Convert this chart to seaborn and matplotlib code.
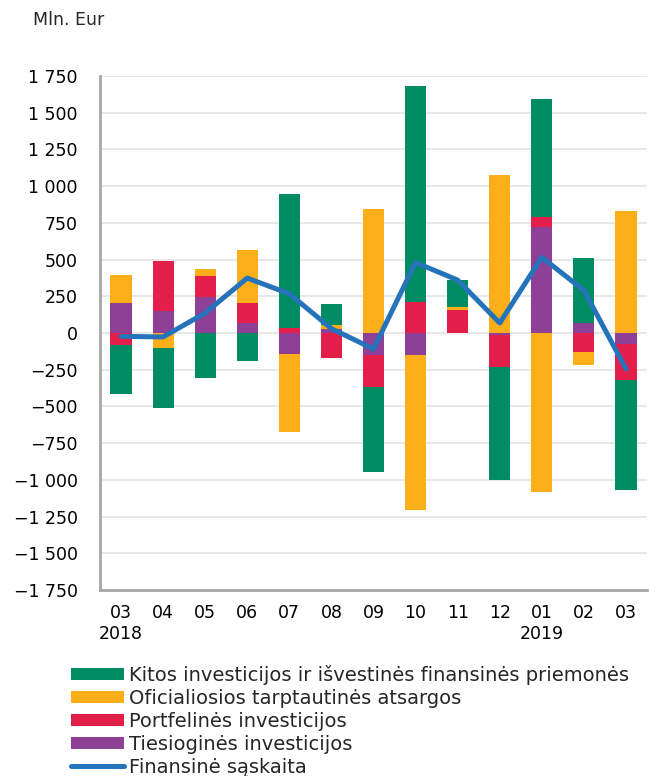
import numpy as np
import matplotlib
matplotlib.use("Agg")
import matplotlib.pyplot as plt
import seaborn as sns
from matplotlib.ticker import FuncFormatter

months = ["03\n2018", "04", "05", "06", "07", "08", "09", "10", "11", "12", "01\n2019", "02", "03"]

# Mln. Eur
tiesiogines = [204, 150, 245, 68, -141, 29, -150, -150, 0, -14, 725, 68, -75]
portfelines = [-80, 340, 140, 138, 36, -173, -220, 211, 158, -217, 68, -132, -247]
oficialiosios = [190, -102, 50, 356, -532, 25, 843, -1052, 19, 1074, -1081, -86, 832]
kitos = [-333, -408, -306, -188, 909, 141, -578, 1471, 185, -769, 802, 442, -750]
finansine = [-23, -27, 136, 374, 267, 30, -109, 480, 360, 68, 515, 290, -245]

series = [
    ("Tiesioginės investicijos", tiesiogines, "#8E3F96"),
    ("Portfelinės investicijos", portfelines, "#E41E4A"),
    ("Oficialiosios tarptautinės atsargos", oficialiosios, "#FDAF1A"),
    ("Kitos investicijos ir išvestinės finansinės priemonės", kitos, "#008C62"),
]

sns.set_theme(style="white")
plt.rcParams["font.family"] = ["DejaVu Sans"]

fig = plt.figure(figsize=(6.49, 7.76), dpi=100)
ax = fig.add_axes([0.154, 0.2397, 0.843, 0.6624])

x = np.arange(len(months))
pos_base = np.zeros(len(months))
neg_base = np.zeros(len(months))
handles = {}
for name, vals, col in series:
    v = np.array(vals, dtype=float)
    bottom = np.where(v >= 0, pos_base, neg_base)
    h = ax.bar(x, v, width=0.5, bottom=bottom, color=col, linewidth=0, zorder=2)
    handles[name] = h
    pos_base = pos_base + np.clip(v, 0, None)
    neg_base = neg_base + np.clip(v, None, 0)

sns.lineplot(x=x, y=finansine, ax=ax, color="#2573BA", linewidth=3.6, zorder=3,
             label="Finansinė sąskaita", legend=False)

ax.set_xlim(-0.5, len(months) - 0.5)
ax.set_ylim(-1750, 1750)
ax.set_yticks(np.arange(-1750, 1751, 250))
ax.yaxis.set_major_formatter(FuncFormatter(
    lambda v, p: ("−" if v < 0 else "") + f"{abs(int(v)):,}".replace(",", " ")))
ax.set_xticks(x)
ax.set_xticklabels(months)
ax.tick_params(axis="both", length=0, labelsize=12.5, colors="black")
ax.tick_params(axis="x", pad=10)
ax.tick_params(axis="y", pad=16)

ax.grid(axis="y", color="#e4e4e4", linewidth=1.2, zorder=0)
ax.set_axisbelow(True)
for s in ["top", "right"]:
    ax.spines[s].set_visible(False)
for s in ["left", "bottom"]:
    ax.spines[s].set_color("#a6a6a6")
    ax.spines[s].set_linewidth(2)

fig.text(33 / 649, 1 - 20 / 776, "Mln. Eur", fontsize=12.5, va="center", ha="left")

order = ["Kitos investicijos ir išvestinės finansinės priemonės",
         "Oficialiosios tarptautinės atsargos",
         "Portfelinės investicijos",
         "Tiesioginės investicijos"]
line_handle = ax.get_lines()[0]
leg = fig.legend([handles[n] for n in order] + [line_handle], order + ["Finansinė sąskaita"],
                 loc="upper left", bbox_to_anchor=(71 / 649, 1 - 665 / 776),
                 frameon=False, fontsize=14, handlelength=2.7, handleheight=0.56,
                 handletextpad=0.28, labelspacing=0.2, borderpad=0, borderaxespad=0)

fig.savefig("out.png", dpi=100)
